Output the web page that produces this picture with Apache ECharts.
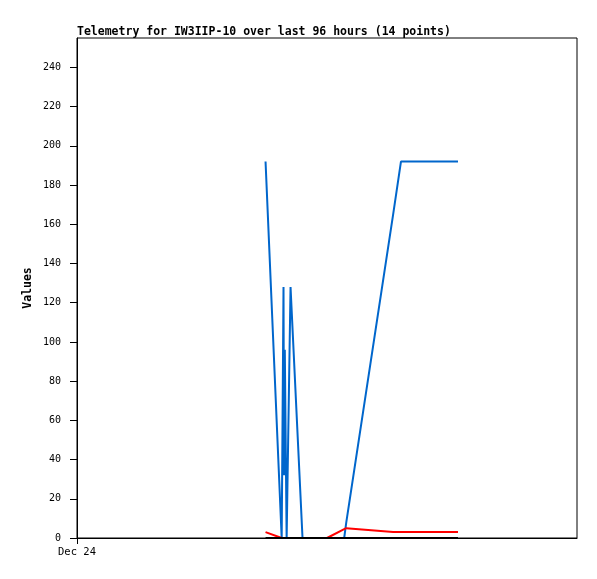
<!DOCTYPE html>
<html>
<head>
<meta charset="utf-8">
<script src="https://cdn.jsdelivr.net/npm/echarts@6/dist/echarts.min.js"></script>
<style>
  html, body { margin: 0; padding: 0; background: #fff; }
  #main { width: 597px; height: 579px; }
</style>
</head>
<body>
<div id="main"></div>
<script>
// hours since Dec 24 00:00
const hours = [36.2, 39.3, 39.65, 39.75, 39.9, 40.25, 41.0, 43.3, 48.0, 51.3, 51.7, 60.7, 62.2, 73.15];
const blueVals = [192, 0, 128, 32, 96, 0, 128, 0, 0, 0, 8, 165, 192, 192];
const redVals = [3, 0, 0, 0, 0, 0, 0, 0, 0, 4.5, 5, 3, 3, 3];
const blackVals = [0, 0, 0, 0, 0, 0, 0, 0, 0, 0, 0, 0, 0, 0];
const yTicks = [0, 20, 40, 60, 80, 100, 120, 140, 160, 180, 200, 220, 240];
const xTicks = [0];
const xTickNames = ['Dec 24'];

const font = 'DejaVu Sans Mono';

function pairs(vals) {
    let out = [];
    for (let i = 0; i < hours.length; i++) {
        out.push([hours[i], vals[i]]);
    }
    return out;
}

let chart = echarts.init(document.getElementById('main'));
chart.setOption({
    animation: false,
    title: {
        text: 'Telemetry for IW3IIP-10 over last 96 hours (14 points)',
        left: 72,
        top: 21,
        textStyle: { fontFamily: font, fontWeight: 'bold', fontSize: 11.5, color: '#000' }
    },
    grid: {
        left: 77, top: 38, right: 20, bottom: 41,
        show: true, borderColor: '#000', borderWidth: 1, backgroundColor: '#fff'
    },
    xAxis: {
        type: 'value',
        min: 0,
        max: 96,
        axisLine: { show: true, lineStyle: { color: '#000' } },
        axisTick: { show: true, inside: false, length: 6, customValues: xTicks, lineStyle: { color: '#000' } },
        axisLabel: {
            customValues: xTicks,
            formatter: function (v) { return xTickNames[xTicks.indexOf(v)] || ''; },
            fontFamily: font, fontSize: 10.5, color: '#000', margin: 9
        },
        splitLine: { show: false }
    },
    yAxis: {
        type: 'value',
        min: 0,
        max: 255,
        name: 'Values',
        nameLocation: 'middle',
        nameRotate: 90,
        nameGap: 43,
        nameMoveOverlap: false,
        nameTextStyle: { fontFamily: font, fontWeight: 'bold', fontSize: 11.5, color: '#000' },
        axisLine: { show: true, lineStyle: { color: '#000' } },
        axisTick: { show: true, length: 7, customValues: yTicks, lineStyle: { color: '#000' } },
        axisLabel: { customValues: yTicks, fontFamily: font, fontSize: 10, color: '#000', margin: 16 },
        splitLine: { show: false }
    },
    series: [
        { type: 'line', data: pairs(blueVals), symbol: 'none', lineStyle: { color: '#0066cc', width: 2 } },
        { type: 'line', data: pairs(redVals), symbol: 'none', lineStyle: { color: '#ff0000', width: 2 } },
        { type: 'line', data: pairs(blackVals), symbol: 'none', lineStyle: { color: '#000000', width: 2 } }
    ]
});
</script>
</body>
</html>
